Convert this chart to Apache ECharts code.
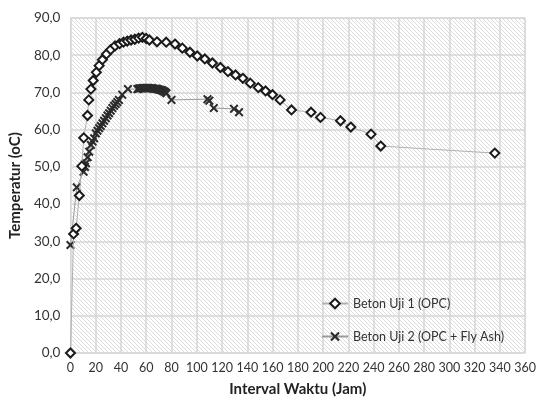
<!DOCTYPE html>
<html>
<head>
<meta charset="utf-8">
<script src="https://cdn.jsdelivr.net/npm/echarts@6/dist/echarts.min.js"></script>
<style>
  html, body { margin: 0; padding: 0; background: #fff; }
  #chart { width: 539px; height: 405px; }
</style>
</head>
<body>
<div id="chart"></div>
<script>
// Beton Uji 1 (OPC)
const opcJam = [0, 2.5, 4.5, 7, 9, 10.5, 13.5, 14.5, 16.2, 18, 20.5, 22.7, 25.3, 28.5, 31.8, 35.3, 38.9, 42, 45, 48, 51, 54, 57, 60, 62.5, 68.5, 75.8, 82.8, 88.6, 94.6, 100.4, 106.4, 112.4, 118.7, 124.7, 130.7, 136.5, 142.4, 148.7, 154.5, 160, 166, 175, 190.5, 198, 213.8, 222, 238, 245.7, 336];
const opcSuhu = [0, 32, 33.5, 42.3, 50.2, 57.8, 63.8, 68, 70.9, 73.2, 75.4, 77.2, 78.8, 80.3, 81.5, 82.5, 83.1, 83.5, 83.8, 84.1, 84.3, 84.6, 84.8, 84.5, 84.1, 83.6, 83.5, 83, 81.9, 80.8, 79.8, 79, 77.9, 76.7, 75.6, 74.7, 73.8, 72.5, 71.3, 70.4, 69.4, 68, 65.3, 64.7, 63.3, 62.4, 60.7, 58.8, 55.6, 53.7];

// Beton Uji 2 (OPC + Fly Ash)
const flyJam = [0, 5, 10.4, 11.5, 12.3, 13.6, 14.9, 16.2, 17.5, 18.8, 20.1, 21.4, 22.7, 24, 25.3, 26.6, 28, 29.3, 30.6, 31.9, 33.2, 34.5, 35.8, 37.1, 38.4, 41, 45.5, 53, 54, 55, 56, 57, 58, 59, 60, 61, 62, 63, 64, 65, 66, 67, 68, 69, 70, 71, 72, 73, 74, 75, 76, 80, 108.5, 110, 113.5, 129.5, 133.5];
const flySuhu = [29, 44.5, 48.7, 50, 51, 52.6, 54.1, 55.9, 56.8, 57.7, 59, 59.7, 60.4, 61, 61.7, 62.4, 63.1, 63.8, 64.4, 65.1, 65.8, 66.4, 66.9, 67.4, 68, 69.4, 70.9, 70.9, 71, 71.1, 71.1, 71.1, 71.2, 71.2, 71.2, 71.2, 71.2, 71.1, 71.1, 71.1, 71, 71, 71, 70.9, 70.8, 70.7, 70.6, 70.5, 70.3, 70.1, 69.8, 68, 68.2, 67.8, 65.8, 65.6, 64.7];

const seriesNames = ['Beton Uji 1 (OPC)', 'Beton Uji 2 (OPC + Fly Ash)'];

// diagonal hatch for the plot background
function hatch() {
  const c = document.createElement('canvas');
  c.width = 4; c.height = 4;
  const g = c.getContext('2d');
  g.fillStyle = '#ffffff';
  g.fillRect(0, 0, 4, 4);
  g.fillStyle = '#dcdcdc';
  for (let i = 0; i < 4; i++) g.fillRect(i, i, 1, 1);
  return c;
}

const pairs = (xs, ys) => xs.map((x, i) => [x, ys[i]]);
const fmt = v => v.toFixed(1).replace('.', ',');
const font = 'Lato, "Open Sans", sans-serif';
const crossPath = 'path://M0,1.6L1.6,0L5,3.4L8.4,0L10,1.6L6.6,5L10,8.4L8.4,10L5,6.6L1.6,10L0,8.4L3.4,5Z';

const chart = echarts.init(document.getElementById('chart'));
chart.setOption({
  animation: false,
  grid: {
    left: 68, right: 12, top: 18, bottom: 52,
    show: true,
    backgroundColor: { image: hatch(), repeat: 'repeat' },
    borderColor: '#d9d9d9',
    borderWidth: 1
  },
  legend: {
    orient: 'vertical',
    left: 316,
    top: 292,
    itemWidth: 26,
    itemHeight: 12,
    itemGap: 20,
    textStyle: { fontFamily: font, fontSize: 12.5, color: '#333' },
    data: seriesNames
  },
  xAxis: {
    type: 'value',
    min: 0, max: 360, interval: 20,
    name: 'Interval Waktu (Jam)',
    nameLocation: 'middle',
    nameGap: 29,
    nameTextStyle: { fontFamily: font, fontSize: 15, fontWeight: 'bold', color: '#222' },
    axisLine: { show: false },
    axisTick: { show: false },
    axisLabel: { fontFamily: font, fontSize: 12.5, color: '#333', margin: 8 },
    splitLine: { lineStyle: { color: '#d6d6d6', width: 1.5 } }
  },
  yAxis: {
    type: 'value',
    min: 0, max: 90, interval: 10,
    name: 'Temperatur (oC)',
    nameLocation: 'middle',
    nameGap: 46,
    nameTextStyle: { fontFamily: font, fontSize: 15, fontWeight: 'bold', color: '#222' },
    axisLine: { show: false },
    axisTick: { show: false },
    axisLabel: { fontFamily: font, fontSize: 13.5, color: '#333', margin: 10, formatter: fmt },
    splitLine: { lineStyle: { color: '#d6d6d6', width: 1.5 } }
  },
  series: [
    {
      name: seriesNames[0],
      type: 'line',
      data: pairs(opcJam, opcSuhu),
      symbol: 'diamond',
      symbolSize: 9,
      itemStyle: { color: '#ffffff', borderColor: '#1a1a1a', borderWidth: 2 },
      lineStyle: { color: '#b0b0b0', width: 1 },
      z: 3
    },
    {
      name: seriesNames[1],
      type: 'line',
      data: pairs(flyJam, flySuhu),
      symbol: crossPath,
      symbolSize: 9,
      itemStyle: { color: '#2b2b2b' },
      lineStyle: { color: '#9a9a9a', width: 1 },
      z: 2
    }
  ]
});
</script>
</body>
</html>
